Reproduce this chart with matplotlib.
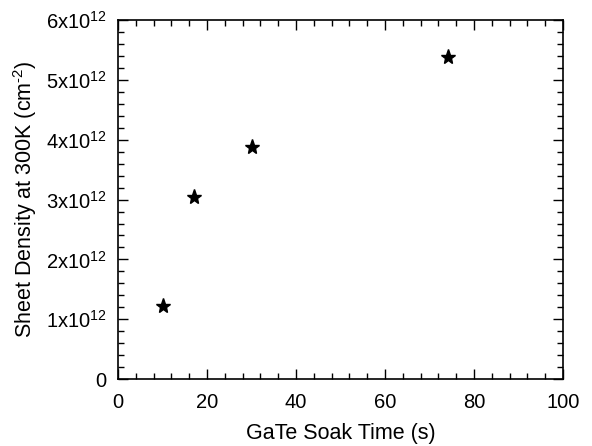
import numpy as np
import matplotlib

matplotlib.use('Agg')
import matplotlib.pyplot as plt
from matplotlib.ticker import MultipleLocator, AutoMinorLocator

# data
soak_time = [10.2, 17.1, 30.1, 74.2]          # s
sheet_density = [1.22, 3.05, 3.88, 5.38]      # x1e12 cm^-2

y_ticks = [0, 1, 2, 3, 4, 5, 6]
y_tick_labels = ['0'] + [rf'{v}x10$^{{12}}$' for v in y_ticks[1:]]

plt.rcParams['font.family'] = ['Liberation Sans', 'DejaVu Sans']
plt.rcParams['mathtext.fontset'] = 'custom'
plt.rcParams['mathtext.rm'] = 'Liberation Sans'

fig = plt.figure(figsize=(5.92, 4.46), dpi=100)
ax = fig.add_axes([0.1993, 0.150, 0.7517, 0.805])

ax.plot(np.array(soak_time), np.array(sheet_density) * 1e12, linestyle='none',
        marker='*', color='black', markersize=11)

ax.set_xlim(0, 100)
ax.set_ylim(0, 6e12)
ax.xaxis.set_major_locator(MultipleLocator(20))
ax.xaxis.set_minor_locator(AutoMinorLocator(5))
ax.set_yticks([v * 1e12 for v in y_ticks])
ax.set_yticklabels(y_tick_labels)
ax.yaxis.set_minor_locator(AutoMinorLocator(5))

ax.tick_params(which='both', direction='in', top=True, right=True, labelsize=14.5, width=1)
ax.tick_params(which='major', length=7)
ax.tick_params(axis='x', which='major', pad=10)
ax.tick_params(axis='y', which='major', pad=8)
ax.tick_params(which='minor', length=4)
for s in ax.spines.values():
    s.set_linewidth(1.2)

ax.set_xlabel('GaTe Soak Time (s)', fontsize=15.5, labelpad=8)
ax.set_ylabel(r'Sheet Density at 300K (cm$^{\text{-2}}$)', fontsize=15.5, labelpad=5)

fig.savefig('out.png', dpi=100)
